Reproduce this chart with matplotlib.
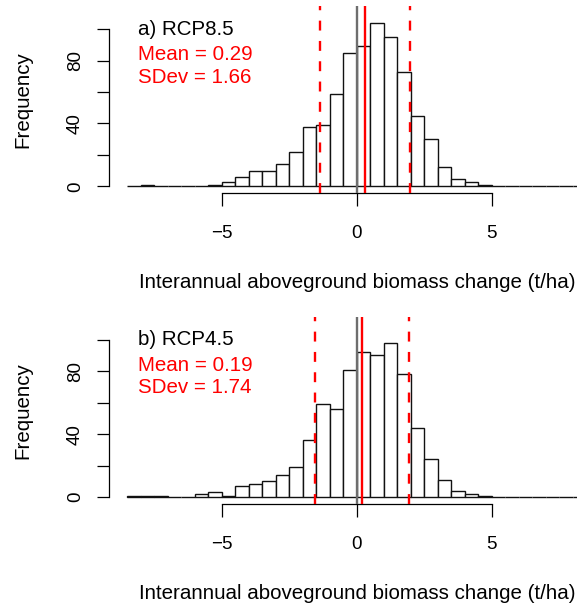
import numpy as np
import matplotlib.pyplot as plt

plt.rcParams['font.family'] = ['Liberation Sans', 'DejaVu Sans']

# histogram breaks: -8.5 .. 8.5 in 0.5 steps
bin_edges = np.arange(-8.5, 8.51, 0.5)

counts_rcp85 = [0, 1, 0, 0, 0, 0, 1, 3, 6, 10, 10, 14, 22, 38, 39, 59, 85,
                89, 104, 95, 73, 45, 30, 12, 5, 3, 1, 0, 0, 0, 0, 0, 0, 0]
counts_rcp45 = [1, 1, 1, 0, 0, 2, 3, 1, 7, 8, 10, 14, 19, 36, 59, 56, 81,
                92, 90, 98, 78, 44, 24, 11, 4, 2, 1, 0, 0, 0, 0, 0, 0, 0]

tags = ['a) RCP8.5', 'b) RCP4.5']
means = [0.29, 0.19]
sdevs = [1.66, 1.74]

xlab = 'Interannual aboveground biomass change (t/ha)'
W, H = 577, 607


def panel(ax, counts, tag, m, s):
    ax.bar(bin_edges[:-1], counts, width=0.5, align='edge', color='white',
           edgecolor='#111111', linewidth=1.0, zorder=2)
    ax.axvline(0, color='#6e6e6e', lw=1.7, zorder=3)
    ax.axvline(m, color='red', lw=1.7, zorder=4)
    for v in (m - s, m + s):
        ax.axvline(v, color='red', lw=1.7, ls=(0, (4.2, 4.4)), zorder=4)

    ax.set_xlim(-9.18, 9.18)
    ax.set_ylim(-4.4, 114.4)
    for side in ('top', 'right'):
        ax.spines[side].set_visible(False)
    ax.spines['left'].set_bounds(0, 100)
    ax.spines['bottom'].set_bounds(-5, 5)
    for side in ('left', 'bottom'):
        ax.spines[side].set_linewidth(0.9)

    ax.set_xticks([-5, 0, 5])
    ax.set_yticks([0, 20, 40, 60, 80, 100])
    ax.set_yticklabels(['0', '', '40', '', '80', ''])
    ax.tick_params(axis='both', direction='out', length=9, width=0.9,
                   labelsize=13.5)
    ax.tick_params(axis='x', pad=14)
    ax.tick_params(axis='y', pad=9, labelrotation=90)
    for lab in ax.get_yticklabels():
        lab.set_va('center')

    ax.set_xlabel(xlab, fontsize=14.8)
    ax.set_ylabel('Frequency', fontsize=14.8)
    ax.xaxis.set_label_coords(0.5, -0.426)
    ax.yaxis.set_label_coords(-0.155, 0.5)

    ax.text(0.058, 0.848, tag, transform=ax.transAxes, fontsize=14.8)
    ax.text(0.058, 0.712, 'Mean = %.2f' % m, transform=ax.transAxes,
            fontsize=14.8, color='red')
    ax.text(0.058, 0.591, 'SDev = %.2f' % s, transform=ax.transAxes,
            fontsize=14.8, color='red')


fig = plt.figure(figsize=(W / 100, H / 100), dpi=100)
ax1 = fig.add_axes([109.1 / W, 1 - 193.3 / H, 495.7 / W, 186.9 / H])
ax2 = fig.add_axes([109.1 / W, 1 - 504.0 / H, 495.7 / W, 187.0 / H])

panel(ax1, counts_rcp85, tags[0], means[0], sdevs[0])
panel(ax2, counts_rcp45, tags[1], means[1], sdevs[1])

fig.savefig('out.png', dpi=100)
